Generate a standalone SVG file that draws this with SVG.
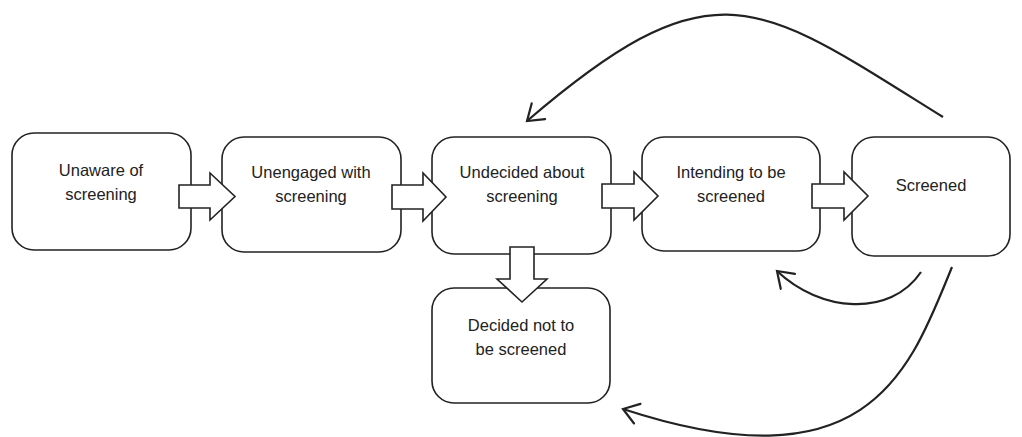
<svg xmlns="http://www.w3.org/2000/svg" width="1022" height="437" viewBox="0 0 1022 437">
<defs>
<style>
.box{fill:#fff;stroke:#222;stroke-width:1.6}
.blk{fill:#fff;stroke:#222;stroke-width:1.6;stroke-linejoin:miter}
.lbl{font-family:"Liberation Sans",Arial,sans-serif;font-size:16.5px;fill:#222;text-anchor:middle}
.cur{fill:none;stroke:#222;stroke-width:2.2}
</style>
<marker id="vh" markerUnits="userSpaceOnUse" markerWidth="26" markerHeight="26" refX="20" refY="13" orient="auto">
<path d="M5,2.7 L20,13 L5,23.3" fill="none" stroke="#222" stroke-width="2.2" stroke-linecap="round"/>
</marker>
</defs>
<rect width="1022" height="437" fill="#fff"/>
<g id="n1"><rect class="box" x="12" y="133" width="179" height="117" rx="22"/>
<text class="lbl" x="101" y="176">Unaware of</text><text class="lbl" x="101" y="200">screening</text></g>
<g id="n2"><rect class="box" x="222" y="137" width="179" height="115" rx="22"/>
<text class="lbl" x="311" y="178">Unengaged with</text><text class="lbl" x="311" y="202">screening</text></g>
<g id="n3"><rect class="box" x="432" y="137" width="179" height="117" rx="22"/>
<text class="lbl" x="522" y="178">Undecided about</text><text class="lbl" x="522" y="202">screening</text></g>
<g id="n4"><rect class="box" x="642" y="137" width="178" height="114" rx="22"/>
<text class="lbl" x="731" y="178">Intending to be</text><text class="lbl" x="731" y="202">screened</text></g>
<g id="n5"><rect class="box" x="852" y="137" width="158" height="119" rx="22"/>
<text class="lbl" x="931" y="191">Screened</text></g>
<g id="n6"><rect class="box" x="432" y="288" width="178" height="115" rx="22"/>
<text class="lbl" x="521" y="331">Decided not to</text><text class="lbl" x="521" y="355">be screened</text></g>
<g id="connectors">
<path class="blk" d="M179,185 L210,185 L210,173 L235,196.5 L210,220 L210,208 L179,208 Z"/>
<path class="blk" d="M392,185 L423,185 L423,173 L446,197 L423,221 L423,209 L392,209 Z"/>
<path class="blk" d="M602,184 L634,184 L634,172 L658,196 L634,220 L634,208 L602,208 Z"/>
<path class="blk" d="M812,184 L844,184 L844,172 L868,196 L844,220 L844,208 L812,208 Z"/>
<path class="blk" d="M510,247 L534,247 L534,279 L547,279 L522,302 L497,279 L510,279 Z"/>
<path class="cur" d="M943,117 C758,2 716,-41 527,121" marker-end="url(#vh)"/>
<path class="cur" d="M921,272 C890,318 820,312 777,271" marker-end="url(#vh)"/>
<path class="cur" d="M952,267 C910,370 870,490 623,409" marker-end="url(#vh)"/>
</g>
</svg>
